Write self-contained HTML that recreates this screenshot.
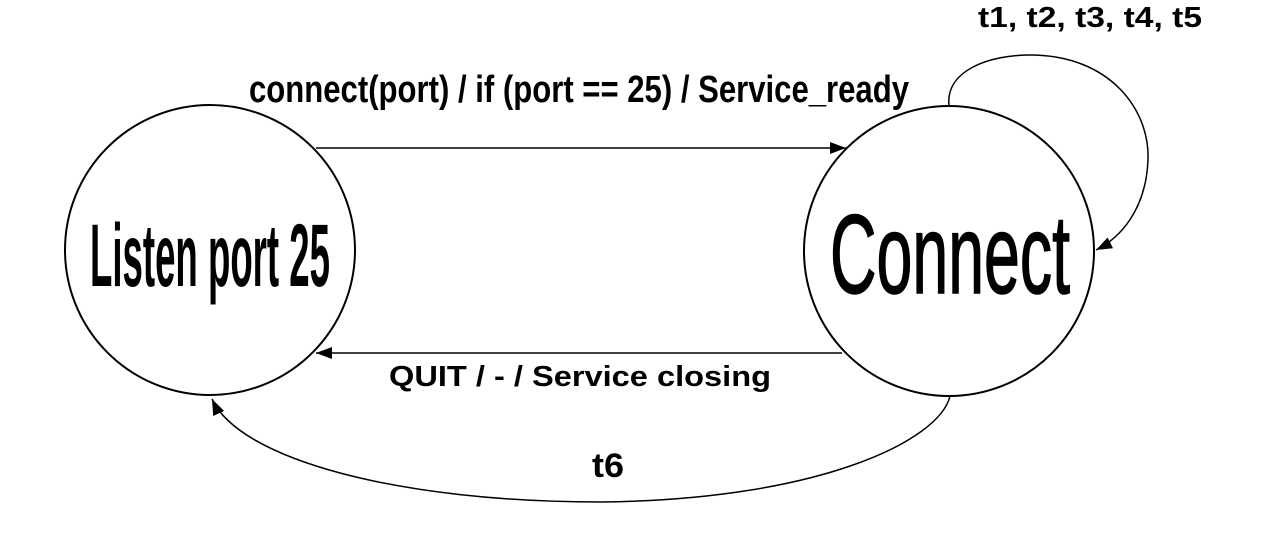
<!DOCTYPE html>
<html><head><meta charset="utf-8"><style>html,body{margin:0;padding:0;background:#fff}svg{display:block}</style></head>
<body>
<svg width="1262" height="543" viewBox="0 0 1262 543" xmlns="http://www.w3.org/2000/svg" font-family="Liberation Sans, sans-serif" font-weight="bold">
<defs>
<marker id="a" markerWidth="16" markerHeight="12" refX="16" refY="6" orient="auto" markerUnits="userSpaceOnUse">
<path d="M0,0 L16,6 L0,12 Z" fill="#000"/></marker>
</defs>
<circle cx="210" cy="250" r="145" fill="none" stroke="#000" stroke-width="2"/>
<circle cx="949" cy="251" r="145" fill="none" stroke="#000" stroke-width="2"/>
<text x="90" y="286" font-size="89" textLength="240" lengthAdjust="spacingAndGlyphs">Listen port 25</text>
<text x="830" y="293" font-size="112" font-weight="normal" textLength="240" lengthAdjust="spacingAndGlyphs" stroke="#000" stroke-width="1.5">Connect</text>
<line x1="316" y1="148" x2="846" y2="148" stroke="#000" stroke-width="1.5" marker-end="url(#a)"/>
<line x1="842" y1="353" x2="316" y2="353" stroke="#000" stroke-width="1.5" marker-end="url(#a)"/>
<path d="M949,106 C945,70 990,55 1030,55 C1110,55 1150,110 1148,160 C1146,210 1120,238 1096,250" fill="none" stroke="#000" stroke-width="1.5" marker-end="url(#a)"/>
<path d="M950,396 C940,440 820,500 600,502 C400,502 240,460 212,399" fill="none" stroke="#000" stroke-width="1.5" marker-end="url(#a)"/>
<text x="249" y="102" font-size="38" textLength="660" lengthAdjust="spacingAndGlyphs">connect(port) / if (port == 25) / Service_ready</text>
<text x="978" y="27" font-size="29" textLength="224" lengthAdjust="spacingAndGlyphs">t1, t2, t3, t4, t5</text>
<text x="389" y="386" font-size="29" textLength="382" lengthAdjust="spacingAndGlyphs">QUIT / - / Service closing</text>
<text x="592" y="477" font-size="34" textLength="32" lengthAdjust="spacingAndGlyphs">t6</text>
</svg>
</body></html>
